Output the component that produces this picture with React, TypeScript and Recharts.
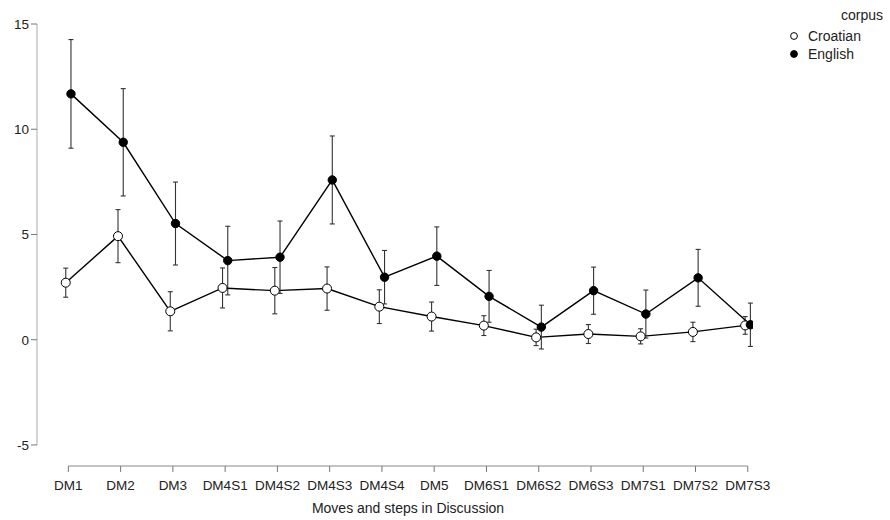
import { ErrorBar, Line, LineChart, ReferenceLine, XAxis, YAxis } from 'recharts'

const moves = ['DM1', 'DM2', 'DM3', 'DM4S1', 'DM4S2', 'DM4S3', 'DM4S4', 'DM5', 'DM6S1', 'DM6S2', 'DM6S3', 'DM7S1', 'DM7S2', 'DM7S3']
const croatianMean = [2.71, 4.92, 1.35, 2.46, 2.33, 2.43, 1.57, 1.1, 0.67, 0.11, 0.27, 0.16, 0.37, 0.68]
const croatianErr = [0.69, 1.26, 0.93, 0.95, 1.1, 1.03, 0.8, 0.69, 0.47, 0.39, 0.45, 0.36, 0.46, 0.42]
const englishMean = [11.68, 9.38, 5.52, 3.76, 3.92, 7.59, 2.97, 3.97, 2.06, 0.6, 2.33, 1.22, 2.94, 0.71]
const englishErr = [2.58, 2.55, 1.97, 1.63, 1.72, 2.09, 1.27, 1.39, 1.23, 1.04, 1.12, 1.14, 1.35, 1.03]
const yTicks = [-5, 0, 5, 10, 15]
const seriesNames = ['Croatian', 'English']
const legendTitle = 'corpus'
const xTitle = 'Moves and steps in Discussion'

const FONT = '"Liberation Sans", Arial, sans-serif'
const X_MIN = -0.6
const X_MAX = 13.1
const Y_MIN = -6
const DODGE = 0.05

const toRows = (means: number[], errs: number[], shift: number) =>
  means.map((v, i) => ({ x: i + shift, y: v, err: errs[i] }))

const croatianRows = toRows(croatianMean, croatianErr, -DODGE)
const englishRows = toRows(englishMean, englishErr, DODGE)

// legend sits outside the chart so it doesn't eat plot height
function CorpusLegend() {
  return (
    <svg width={110} height={64} style={{ fontFamily: FONT, fontSize: 14, display: 'block' }}>
      <text x={103} y={15} textAnchor="end" dominantBaseline="central" fill="#222">
        {legendTitle}
      </text>
      {seriesNames.map((name, i) => (
        <g key={name}>
          <circle
            cx={14}
            cy={36 + i * 18}
            r={3.4}
            fill={i === 0 ? '#fff' : '#000'}
            stroke="#000"
            strokeWidth={1}
          />
          <text x={28} y={36 + i * 18} dominantBaseline="central" fill="#222">
            {name}
          </text>
        </g>
      ))}
    </svg>
  )
}

export default function App() {
  return (
    <div style={{ position: 'absolute', left: 0, top: 0, width: 890, height: 520, fontFamily: FONT }}>
      <LineChart width={890} height={520} margin={{ top: 24, right: 137, bottom: 0, left: 0 }}>
        <XAxis
          type="number"
          dataKey="x"
          domain={[X_MIN, X_MAX]}
          ticks={moves.map((_, i) => i)}
          tickFormatter={(v: number) => moves[Math.round(v)] ?? ''}
          axisLine={false}
          tickLine={{ stroke: '#777' }}
          tickMargin={8}
          tick={{ fontSize: 13.5, fill: '#222', fontFamily: FONT }}
          height={54}
          interval={0}
          allowDataOverflow
          label={{ value: xTitle, position: 'insideBottom', offset: 7, dx: 13, fontSize: 14, fill: '#222', fontFamily: FONT }}
        />
        <YAxis
          type="number"
          domain={[Y_MIN, 15]}
          ticks={yTicks}
          axisLine={false}
          tickLine={{ stroke: '#777' }}
          tick={{ fontSize: 13.5, fill: '#222', fontFamily: FONT }}
          width={37}
          allowDataOverflow
        />
        <ReferenceLine
          segment={[{ x: X_MIN, y: -5 }, { x: X_MIN, y: 15 }]}
          stroke="#aaa"
          strokeWidth={1}
          ifOverflow="visible"
        />
        <ReferenceLine
          segment={[{ x: 0, y: Y_MIN }, { x: moves.length - 1, y: Y_MIN }]}
          stroke="#888"
          strokeWidth={1}
          ifOverflow="visible"
        />
        <Line
          data={croatianRows}
          dataKey="y"
          name={seriesNames[0]}
          stroke="#000"
          strokeWidth={1.4}
          dot={{ r: 4.5, fill: '#fff', stroke: '#000', strokeWidth: 1 }}
          activeDot={false}
          isAnimationActive={false}
        >
          <ErrorBar dataKey="err" width={2.5} stroke="#333" strokeWidth={1.1} direction="y" />
        </Line>
        <Line
          data={englishRows}
          dataKey="y"
          name={seriesNames[1]}
          stroke="#000"
          strokeWidth={1.4}
          dot={{ r: 4.2, fill: '#000', stroke: '#000', strokeWidth: 1 }}
          activeDot={false}
          isAnimationActive={false}
        >
          <ErrorBar dataKey="err" width={2.5} stroke="#333" strokeWidth={1.1} direction="y" />
        </Line>
      </LineChart>
      <div style={{ position: 'absolute', left: 780, top: 0 }}>
        <CorpusLegend />
      </div>
    </div>
  )
}
